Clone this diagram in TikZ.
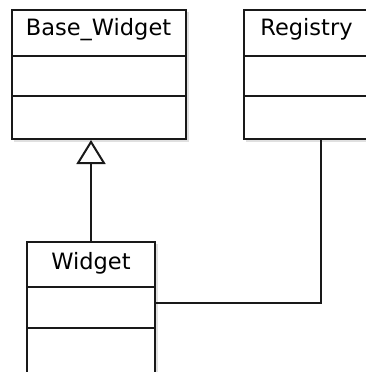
\documentclass[tikz,border=0pt]{standalone}
\usepackage{fontspec}
\setmainfont{DejaVu Sans}
\usetikzlibrary{arrows.meta,calc}
\begin{document}
\begin{tikzpicture}[x=1pt,y=-1pt,
  classbox/.style={draw=black!90, line width=2pt, fill=white, inner sep=0pt},
  shadowbox/.style={fill=black!12, draw=none},
  title/.style={font=\fontsize{22.5}{26}\selectfont, inner sep=0pt, anchor=base},
  divider/.style={draw=black!90, line width=2pt},
  link/.style={draw=black!90, line width=2pt},
]
\useasboundingbox (0,0) rectangle (366,372);

% soft shadows behind the class boxes
\fill[shadowbox] (14,12) rectangle (188.5,141.5);
\fill[shadowbox] (246,12) rectangle (372,141.5);
\fill[shadowbox] (29,244) rectangle (157.5,380);

% Base_Widget
\node[classbox, minimum width=174pt, minimum height=129pt] (base) at (99,74.5) {};
\draw[divider] (base.west |- 0,56) -- (base.east |- 0,56);
\draw[divider] (base.west |- 0,96) -- (base.east |- 0,96);
\node[title] (basetitle) at (98.5,35) {Base\_Widget};

% Registry
\node[classbox, minimum width=126pt, minimum height=129pt] (reg) at (307,74.5) {};
\draw[divider] (reg.west |- 0,56) -- (reg.east |- 0,56);
\draw[divider] (reg.west |- 0,96) -- (reg.east |- 0,96);
\node[title] (regtitle) at (306.5,35) {Registry};

% Widget
\node[classbox, minimum width=128pt, minimum height=136pt] (widget) at (91,310) {};
\draw[divider] (widget.west |- 0,287) -- (widget.east |- 0,287);
\draw[divider] (widget.west |- 0,328) -- (widget.east |- 0,328);
\node[title] (widgettitle) at (91,269) {Widget};

% generalisation: Widget -> Base_Widget
\draw[link, -{Triangle[open, width=29pt, length=24pt, fill=white]}]
  (widget.north) -- (widget.north |- base.south);

% association: Widget -- Registry
\coordinate (wend) at (widget.east |- 0,303);
\coordinate (rend) at (321,0 |- reg.south);
\draw[link] (wend) -| (rend);
\end{tikzpicture}
\end{document}
